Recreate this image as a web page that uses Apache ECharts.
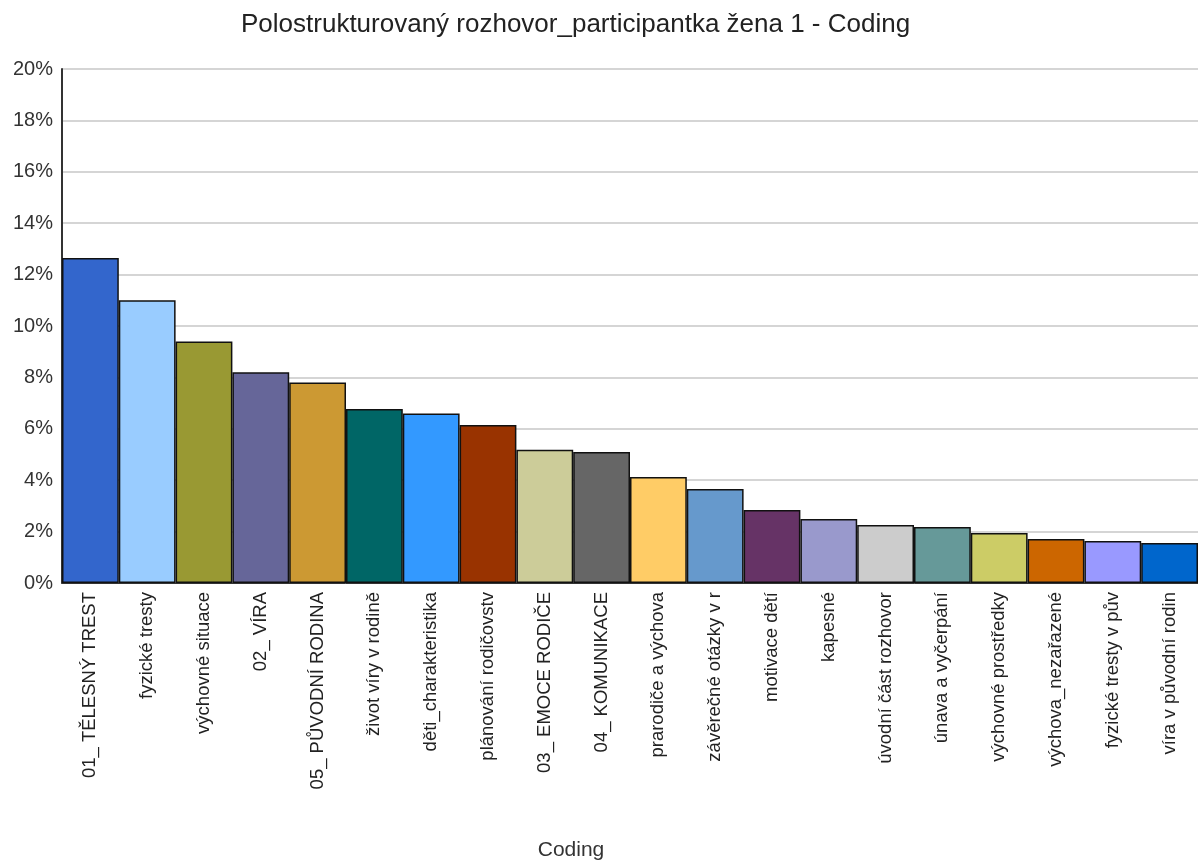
<!DOCTYPE html>
<html><head><meta charset="utf-8">
<script src="https://cdn.jsdelivr.net/npm/echarts@6/dist/echarts.min.js"></script>
<style>html,body{margin:0;padding:0;background:#fff}#c{width:1198px;height:867px}</style>
</head><body><div id="c"></div>
<script>
const categories = ["01_ TĚLESNÝ TREST","fyzické tresty","výchovné situace","02_ VÍRA","05_ PŮVODNÍ RODINA","život víry v rodině","děti_charakteristika","plánování rodičovstv","03_ EMOCE RODIČE","04_ KOMUNIKACE","prarodiče a výchova","závěrečné otázky v r","motivace dětí","kapesné","úvodní část rozhovor","únava a vyčerpání","výchovné prostředky","výchova_nezařazené","fyzické tresty v pův","víra v původní rodin"];
const values = [12.65,11.0,9.4,8.2,7.8,6.77,6.6,6.15,5.18,5.1,4.12,3.66,2.84,2.49,2.26,2.18,1.95,1.71,1.63,1.56];
const colors = ["#3366CC","#99CCFF","#999933","#666699","#CC9933","#006666","#3399FF","#993300","#CCCC99","#666666","#FFCC66","#6699CC","#663366","#9999CC","#CCCCCC","#669999","#CCCC66","#CC6600","#9999FF","#0066CC"];
const chart = echarts.init(document.getElementById('c'));
chart.setOption({
  animation:false,
  title:{text:"Polostrukturovaný rozhovor_participantka žena 1 - Coding",left:236,top:7,
    textStyle:{fontFamily:"Liberation Sans, Arial",fontSize:26,fontWeight:'normal',color:'#222'}},
  grid:{left:62,right:0,top:69,bottom:284},
  xAxis:{type:'category',data:categories,name:'Coding',nameLocation:'middle',nameGap:257,
    nameTextStyle:{fontFamily:"Liberation Sans, Arial",fontSize:21,color:'#333',padding:[0,118,0,0]},
    axisLine:{lineStyle:{color:'#333',width:1}},axisTick:{show:false},
    axisLabel:{rotate:90,interval:0,fontFamily:"Liberation Sans, Arial",fontSize:18.5,color:'#222',margin:9}},
  yAxis:{type:'value',min:0,max:20,interval:2,
    axisLine:{show:true,lineStyle:{color:'#333',width:2}},axisTick:{show:false},
    splitLine:{lineStyle:{color:'#d5d5d5',width:2}},
    axisLabel:{formatter:'{value}%',fontFamily:"Liberation Sans, Arial",fontSize:20,color:'#333',margin:9}},
  series:[{type:'bar',barCategoryGap:'0%',
    data:values.map((v,i)=>({value:v,itemStyle:{color:colors[i]}})),
    itemStyle:{borderColor:'#111',borderWidth:1.5}}]
});
</script></body></html>
